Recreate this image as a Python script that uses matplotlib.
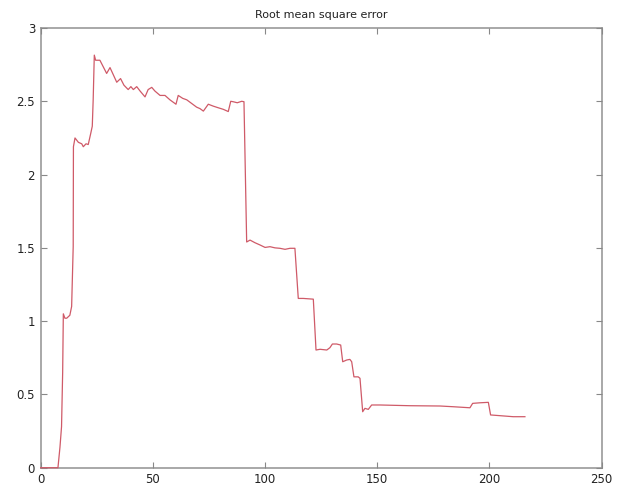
import matplotlib.pyplot as plt

# iteration index and RMSE
x = [0, 7.7, 8.6, 9.3, 9.8, 10.1, 10.8, 11.6, 13.0, 13.8, 14.5, 14.6, 15.3, 16.8, 18.3, 19.0,
     20.2, 21.2, 22.3, 23.0, 23.4, 23.9, 24.5, 25.5, 26.4, 27.9, 29.4, 30.9, 32.4, 33.9, 35.6,
     37.1, 39.0, 40.2, 41.3, 42.8, 44.3, 46.5, 47.9, 49.5, 50.9, 53.2, 55.4, 57.6, 60.3, 61.3,
     63.3, 65.1, 67.3, 69.5, 71.0, 72.5, 74.7, 76.9, 79.1, 81.4, 83.6, 84.7, 85.8, 87.6, 89.6,
     90.6, 91.8, 93.3, 95.5, 97.7, 100.0, 102.2, 104.4, 106.6, 108.9, 111.1, 113.3, 114.8, 117.0,
     121.5, 122.7, 124.5, 127.5, 128.9, 130.0, 131.9, 133.7, 134.6, 136.4, 137.8, 138.6, 139.6,
     141.5, 142.3, 143.5, 144.5, 146.0, 147.5, 151.2, 164.6, 178.0, 183.9, 191.3, 192.5, 195.8,
     199.5, 200.5, 204.7, 210.6, 215.8]
rmse = [0, 0, 0.14, 0.28, 0.65, 1.05, 1.02, 1.02, 1.04, 1.10, 1.51, 2.19, 2.25, 2.22, 2.21, 2.19,
        2.21, 2.205, 2.28, 2.33, 2.51, 2.815, 2.78, 2.78, 2.78, 2.735, 2.69, 2.73, 2.68, 2.63, 2.655,
        2.61, 2.58, 2.60, 2.58, 2.60, 2.57, 2.53, 2.58, 2.595, 2.57, 2.54, 2.54, 2.51, 2.48, 2.54,
        2.52, 2.51, 2.485, 2.46, 2.45, 2.433, 2.48, 2.467, 2.456, 2.445, 2.43, 2.50, 2.497, 2.49, 2.50,
        2.497, 1.54, 1.553, 1.535, 1.52, 1.503, 1.508, 1.50, 1.497, 1.49, 1.497, 1.497, 1.155, 1.155,
        1.15, 0.803, 0.808, 0.803, 0.819, 0.844, 0.844, 0.837, 0.723, 0.735, 0.739, 0.723, 0.62,
        0.62, 0.61, 0.382, 0.405, 0.398, 0.428, 0.428, 0.423, 0.421, 0.416, 0.409, 0.439, 0.443,
        0.446, 0.36, 0.355, 0.348, 0.348]

xticks = [0, 50, 100, 150, 200, 250]
yticks = [0, 0.5, 1, 1.5, 2, 2.5, 3]
ytick_labels = ['0', '0.5', '1', '1.5', '2', '2.5', '3']

fig = plt.figure(figsize=(6.19, 4.87), dpi=100)
ax = fig.add_axes([0.0657, 0.0396, 0.9063, 0.9029])

for s in ax.spines.values():
    s.set_color('#999999')
    s.set_linewidth(1.2)
    s.set_zorder(1)

ax.plot(x, rmse, color='#cf5a68', linewidth=0.9, clip_on=False, zorder=3)

ax.set_xlim(0, 250)
ax.set_ylim(0, 3)
ax.set_xticks(xticks)
ax.set_yticks(yticks)
ax.set_yticklabels(ytick_labels)
ax.tick_params(direction='in', length=4, width=0.8, color='#888888',
               labelsize=8.5, labelcolor='#222222', top=True, right=True, pad=4)

ax.set_title('Root mean square error', fontsize=8, color='#222222', pad=7)

fig.savefig('out.png', dpi=100)
